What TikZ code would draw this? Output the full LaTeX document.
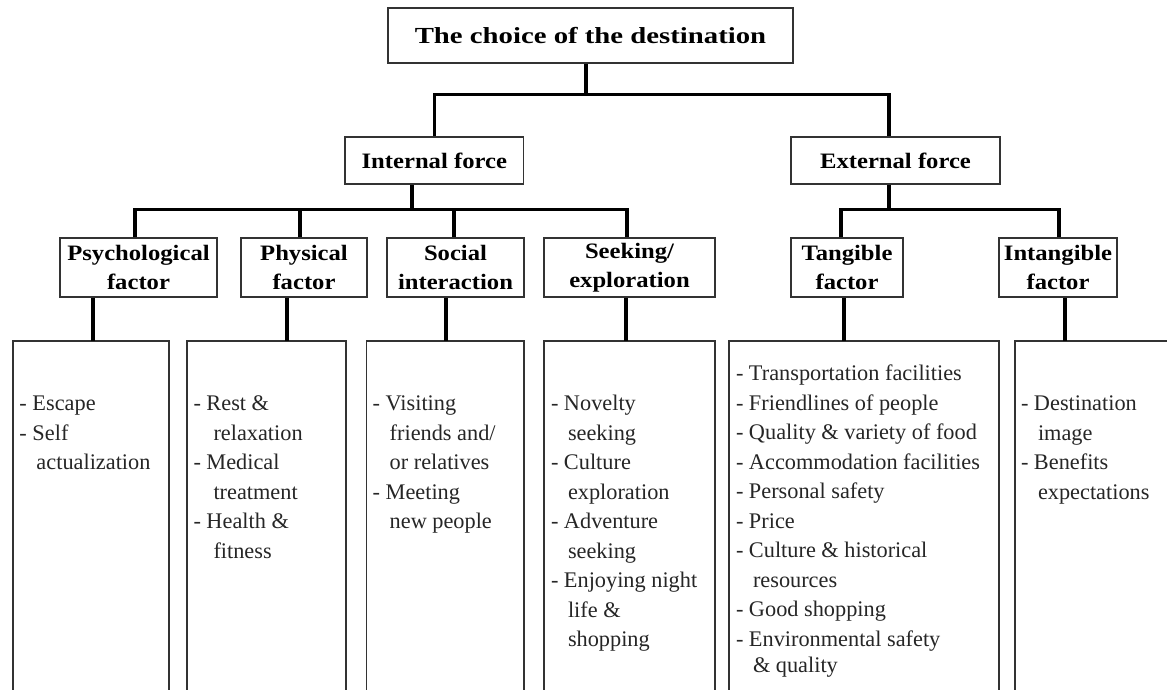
\documentclass[tikz,border=0pt]{standalone}
\usepackage{fontspec}
\setmainfont{Liberation Serif}
\newfontfamily\hdfont[FakeStretch=1.25]{Liberation Serif}
\newfontfamily\lbfont[FakeStretch=1.12]{Liberation Serif}
\newcommand{\hind}{\hspace*{17pt}}
\newcommand{\hindb}{\hspace*{20pt}}
\begin{document}
\begin{tikzpicture}[x=1pt,y=-1pt,
  boxline/.style={draw=black!80, line width=1.6pt},
  hbox/.style={boxline, rectangle, inner sep=0pt, font=\hdfont\bfseries\fontsize{23}{28}\selectfont},
  lbox/.style={boxline, rectangle, inner sep=0pt, align=center, font=\lbfont\bfseries\fontsize{22}{29}\selectfont},
  conn/.style={draw=black, line width=3.2pt, line join=miter},
  openbox/.style={rectangle, inner sep=0pt, minimum height=349pt},
  items/.style={anchor=north west, inner sep=0pt, align=left, text=black!85, font=\fontsize{22.3}{29.5}\selectfont},
]
\useasboundingbox (0,0) rectangle (1167,690);
\fill[white] (0,0) rectangle (1167,690);

% level 0 and 1
\node[hbox, minimum width=405pt, minimum height=55pt] (top) at (590.5,35.5) {The choice of the destination};
\node[lbox, minimum width=178.6pt, minimum height=47pt] (intf) at (434.3,160.5) {Internal force};
\node[lbox, minimum width=209pt, minimum height=47pt] (extf) at (895.5,160.5) {External force};

% level 2
\node[lbox, minimum width=157pt, minimum height=59pt] (psy) at (138.5,267.5) {Psychological\\factor};
\node[lbox, minimum width=126pt, minimum height=59pt] (phy) at (304,267.5) {Physical\\factor};
\node[lbox, minimum width=137pt, minimum height=59pt] (soc) at (455.5,267.5) {Social\\interaction};
\node[lbox, minimum width=171pt, minimum height=59pt] (seek) at (629.5,267.5) {Seeking/\\exploration};
\node[lbox, minimum width=112pt, minimum height=59pt] (tang) at (847,267.5) {Tangible\\factor};
\node[lbox, minimum width=118pt, minimum height=59pt] (intg) at (1058,267.5) {Intangible\\factor};

% level 3 (open at the bottom)
\node[openbox, minimum width=155.6pt] (b1) at (90.8,515.5) {};
\node[openbox, minimum width=158.7pt] (b2) at (266.35,515.5) {};
\node[openbox, minimum width=156.9pt] (b3) at (445.15,515.5) {};
\node[openbox, minimum width=171pt] (b4) at (629.5,515.5) {};
\node[openbox, minimum width=270pt] (b5) at (864,515.5) {};
\node[openbox, minimum width=152pt] (b6) at (1091,515.5) {};
\foreach \b in {b1,b2,b3,b4,b5}{
  \draw[boxline] (\b.south west) -- (\b.north west) -- (\b.north east) -- (\b.south east);
}
\draw[boxline] (b6.south west) -- (b6.north west) -- (b6.north east);

% texts of level 3
\node[items] (t1) at ([xshift=6.5pt,yshift=-48.9pt]b1.north west) {\strut- Escape\\- Self\\\hind actualization};
\node[items] (t2) at ([xshift=6.5pt,yshift=-48.9pt]b2.north west) {\strut- Rest \&\\\hindb relaxation\\- Medical\\\hindb treatment\\- Health \&\\\hindb fitness};
\node[items] (t3) at ([xshift=6pt,yshift=-48.9pt]b3.north west) {\strut- Visiting\\\hind friends and/\\\hind or relatives\\- Meeting\\\hind new people};
\node[items] (t4) at ([xshift=7pt,yshift=-48.9pt]b4.north west) {\strut- Novelty\\\hind seeking\\- Culture\\\hind exploration\\- Adventure\\\hind seeking\\- Enjoying night\\\hind life \&\\\hind shopping};
\node[items] (t5) at ([xshift=7pt,yshift=-18.9pt]b5.north west) {\strut- Transportation facilities\\- Friendlines of people\\- Quality \& variety of food\\- Accommodation facilities\\- Personal safety\\- Price\\- Culture \& historical\\\hind resources\\- Good shopping\\- Environmental safety\\[-3.5pt]\hind\& quality};
\node[items] (t6) at ([xshift=6pt,yshift=-48.9pt]b6.north west) {\strut- Destination\\\hind image\\- Benefits\\\hind expectations};

% connectors
\draw[conn] ([xshift=-4.5pt]top.south) -- ++(0,31) coordinate (j0);
\draw[conn] (intf.north) |- (j0);
\draw[conn] ([xshift=-6.5pt]extf.north) |- (j0);

\draw[conn] ([xshift=-22.3pt]intf.south) -- ++(0,25) coordinate (j1);
\draw[conn] ([xshift=-3.5pt]psy.north) |- (j1);
\draw[conn] ([xshift=-2.5pt]seek.north) |- (j1);
\draw[conn] ([xshift=-4pt]phy.north) -- ([xshift=-4pt]phy.north |- j1);
\draw[conn] ([xshift=-1.5pt]soc.north) -- ([xshift=-1.5pt]soc.north |- j1);

\draw[conn] ([xshift=-6.5pt]extf.south) -- ++(0,25) coordinate (j2);
\draw[conn] ([xshift=-6pt]tang.north) |- (j2);
\draw[conn] ([xshift=1pt]intg.north) |- (j2);

\draw[conn] ([xshift=-45.5pt]psy.south) -- ([xshift=-45.5pt]psy.south |- b1.north);
\draw[conn] ([xshift=-17pt]phy.south) -- ([xshift=-17pt]phy.south |- b2.north);
\draw[conn] ([xshift=-9.5pt]soc.south) -- ([xshift=-9.5pt]soc.south |- b3.north);
\draw[conn] ([xshift=-3.5pt]seek.south) -- ([xshift=-3.5pt]seek.south |- b4.north);
\draw[conn] ([xshift=-3pt]tang.south) -- ([xshift=-3pt]tang.south |- b5.north);
\draw[conn] ([xshift=7pt]intg.south) -- ([xshift=7pt]intg.south |- b6.north);
\end{tikzpicture}
\end{document}
